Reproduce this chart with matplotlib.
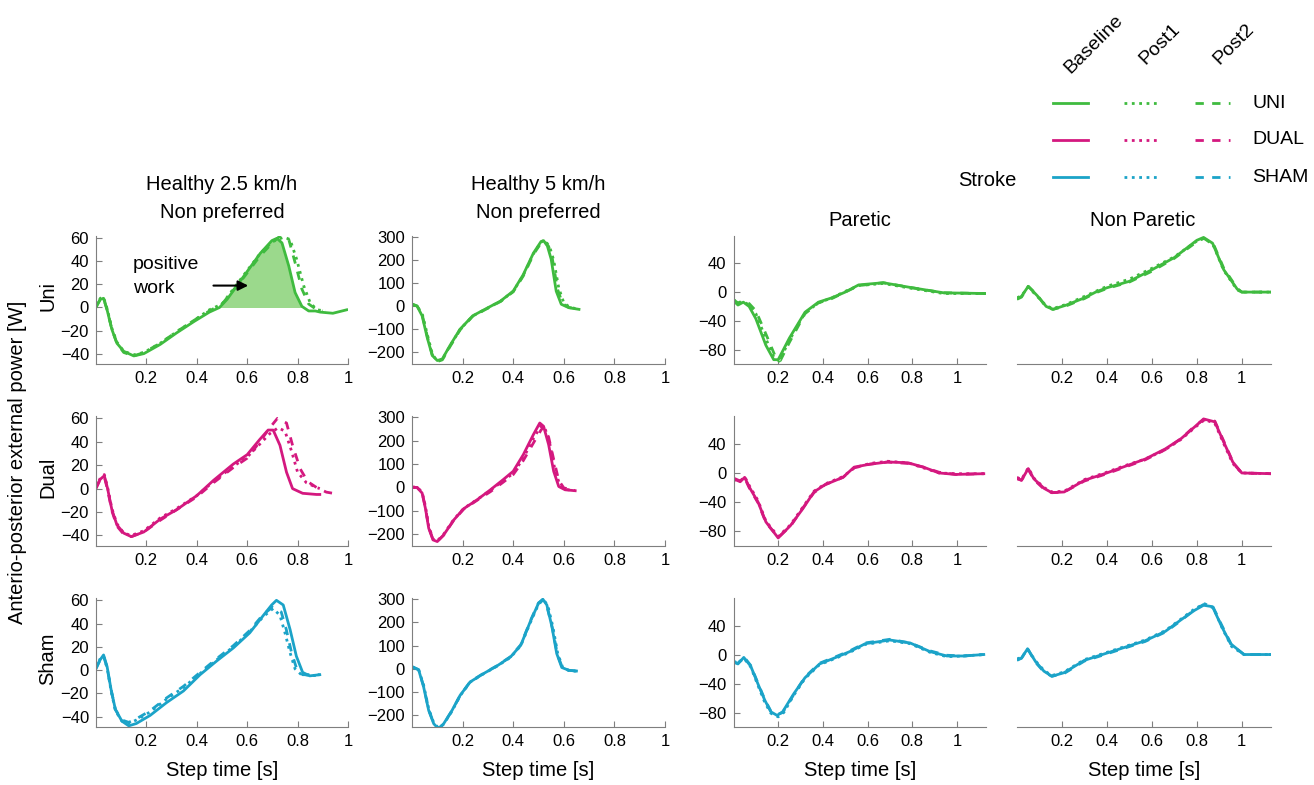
import numpy as np
import matplotlib
matplotlib.use("Agg")
import matplotlib.pyplot as plt
from matplotlib.lines import Line2D

plt.rcParams["font.family"] = ["Liberation Sans", "DejaVu Sans"]

GREEN = "#3fbb3f"
MAGENTA = "#d4187f"
CYAN = "#1ba3c8"
FILL_GREEN = "#9bd98c"

GROUPS = ["UNI", "DUAL", "SHAM"]
ROW_LABELS = ["Uni", "Dual", "Sham"]
SESSIONS = ["Baseline", "Post1", "Post2"]

# (step time [s], power [W])
# --- UNI ---
UNI_H25_BASE = [(0, 1), (0.017, 7), (0.03, 8), (0.044, -2), (0.063, -19), (0.083, -31), (0.11, -38), (0.15, -42),
                (0.19, -40), (0.255, -32), (0.32, -22), (0.39, -12), (0.45, -4), (0.49, 0), (0.52, 7), (0.586, 27),
                (0.652, 47), (0.698, 58), (0.718, 60), (0.738, 56), (0.765, 36), (0.79, 13), (0.817, 1),
                (0.844, -3), (0.87, -3), (0.89, -4), (0.94, -5), (0.995, -2)]
UNI_H25_POST1 = [(0, 1), (0.017, 8), (0.03, 9), (0.044, -1), (0.063, -18), (0.083, -30), (0.11, -38), (0.15, -41),
                 (0.19, -39), (0.255, -31), (0.32, -21), (0.39, -11), (0.45, -2), (0.5, 3), (0.586, 28),
                 (0.652, 47), (0.7, 57), (0.745, 61), (0.77, 59), (0.796, 42), (0.824, 19), (0.85, 4),
                 (0.877, -2), (0.91, -3)]
UNI_H25_POST2 = [(0, 0), (0.017, 7), (0.03, 8), (0.044, -2), (0.063, -19), (0.083, -31), (0.11, -39), (0.15, -42),
                 (0.19, -39), (0.255, -31), (0.32, -21), (0.39, -11), (0.45, -3), (0.5, 3), (0.586, 26),
                 (0.652, 45), (0.7, 56), (0.73, 62), (0.765, 59), (0.79, 39), (0.817, 16), (0.844, 3),
                 (0.877, -2), (0.9, -3)]
UNI_H5_BASE = [(0, 9), (0.02, 1), (0.04, -41), (0.06, -135), (0.08, -213), (0.1, -235), (0.12, -228), (0.15, -170),
               (0.19, -99), (0.24, -41), (0.3, -6), (0.35, 23), (0.4, 66), (0.44, 138), (0.48, 231), (0.51, 281),
               (0.52, 285), (0.535, 262), (0.55, 205), (0.57, 66), (0.59, 9), (0.62, -6), (0.66, -13)]
UNI_H5_POST1 = [(0, 8), (0.02, 0), (0.04, -30), (0.06, -120), (0.08, -205), (0.1, -240), (0.12, -230),
                (0.15, -172), (0.19, -100), (0.24, -42), (0.3, -7), (0.35, 22), (0.4, 65), (0.44, 135), (0.48, 228),
                (0.51, 278), (0.525, 288), (0.545, 255), (0.56, 200), (0.58, 80), (0.6, 15), (0.625, -5),
                (0.65, -10)]
UNI_H5_POST2 = [(0, 10), (0.02, 2), (0.04, -35), (0.06, -128), (0.08, -210), (0.1, -238), (0.12, -232),
                (0.15, -175), (0.19, -102), (0.24, -43), (0.3, -8), (0.35, 21), (0.4, 63), (0.44, 132),
                (0.48, 225), (0.51, 275), (0.52, 286), (0.54, 260), (0.555, 205), (0.575, 75), (0.595, 12),
                (0.62, -5), (0.645, -9)]
UNI_PAR_BASE = [(0, -12), (0.02, -18), (0.044, -14), (0.07, -20), (0.1, -37), (0.145, -74), (0.18, -94),
                (0.2, -94), (0.25, -64), (0.32, -28), (0.38, -14), (0.44, -8), (0.5, 0), (0.56, 10), (0.67, 13),
                (0.8, 6), (0.94, -1), (1.13, -2)]
UNI_PAR_POST1 = [(0, -10), (0.02, -16), (0.044, -13), (0.07, -18), (0.1, -30), (0.145, -65), (0.18, -90),
                 (0.205, -96), (0.25, -67), (0.32, -29), (0.38, -15), (0.44, -8), (0.5, 1), (0.56, 9), (0.67, 12),
                 (0.8, 5), (0.94, -2), (1.13, -2)]
UNI_PAR_POST2 = [(0, -11), (0.02, -15), (0.044, -12), (0.07, -16), (0.1, -26), (0.15, -62), (0.185, -88),
                 (0.21, -95), (0.25, -70), (0.32, -30), (0.38, -15), (0.44, -9), (0.5, 0), (0.56, 9), (0.67, 13),
                 (0.8, 6), (0.94, -1), (1.13, -2)]
UNI_NPAR_BASE = [(0, -9), (0.02, -6), (0.05, 8), (0.09, -5), (0.13, -20), (0.16, -24), (0.22, -18), (0.3, -8),
                 (0.35, 0), (0.4, 6), (0.5, 15), (0.6, 31), (0.7, 48), (0.8, 72), (0.83, 76), (0.87, 68),
                 (0.92, 31), (0.98, 4), (1.0, 0), (1.13, 0)]
UNI_NPAR_POST1 = [(0, -8), (0.02, -5), (0.05, 7), (0.09, -6), (0.13, -19), (0.16, -23), (0.22, -17), (0.3, -6),
                  (0.35, 1), (0.4, 8), (0.5, 18), (0.6, 33), (0.7, 49), (0.8, 71), (0.835, 75), (0.875, 64),
                  (0.92, 30), (0.98, 3), (1.0, 0), (1.13, 0)]
UNI_NPAR_POST2 = [(0, -10), (0.02, -7), (0.05, 8), (0.09, -4), (0.13, -21), (0.16, -24), (0.22, -19), (0.3, -9),
                  (0.35, -1), (0.4, 5), (0.5, 14), (0.6, 29), (0.7, 47), (0.8, 70), (0.83, 75), (0.875, 66),
                  (0.92, 33), (0.98, 5), (1.0, 0), (1.13, 0)]

# --- DUAL ---
DUAL_H25_BASE = [(0, 1), (0.017, 8), (0.033, 11), (0.046, 0), (0.063, -18), (0.083, -31), (0.11, -38),
                 (0.14, -41), (0.19, -37), (0.255, -26), (0.32, -18), (0.4, -6), (0.466, 7), (0.545, 21),
                 (0.6, 29), (0.65, 42), (0.683, 50), (0.703, 50), (0.73, 37), (0.756, 14), (0.78, 0),
                 (0.82, -4), (0.875, -5), (0.888, -5)]
DUAL_H25_POST1 = [(0, 1), (0.017, 9), (0.033, 12), (0.046, 1), (0.063, -17), (0.083, -30), (0.11, -38),
                  (0.14, -40), (0.19, -36), (0.255, -25), (0.32, -17), (0.4, -6), (0.466, 6), (0.545, 19),
                  (0.6, 27), (0.65, 38), (0.69, 47), (0.723, 52), (0.75, 49), (0.776, 32), (0.8, 14),
                  (0.835, 5), (0.875, 1), (0.888, 0)]
DUAL_H25_POST2 = [(0, 0), (0.017, 8), (0.033, 10), (0.046, -1), (0.063, -19), (0.083, -32), (0.11, -39),
                  (0.14, -41), (0.19, -37), (0.255, -27), (0.32, -18), (0.4, -7), (0.466, 5), (0.545, 18),
                  (0.6, 26), (0.65, 40), (0.69, 52), (0.72, 60), (0.756, 56), (0.78, 37), (0.81, 17),
                  (0.84, 6), (0.875, 1), (0.914, -3), (0.967, -5)]
DUAL_H5_BASE = [(0, 0), (0.02, 0), (0.04, -24), (0.053, -89), (0.066, -174), (0.083, -224), (0.1, -231),
                (0.125, -203), (0.165, -139), (0.204, -91), (0.257, -53), (0.31, -10), (0.36, 33), (0.4, 69),
                (0.44, 140), (0.48, 226), (0.505, 275), (0.52, 261), (0.54, 183), (0.56, 69), (0.58, 4),
                (0.605, -10), (0.645, -14)]
DUAL_H5_POST1 = [(0, 2), (0.02, 1), (0.04, -20), (0.053, -80), (0.066, -165), (0.083, -220), (0.1, -228),
                 (0.125, -200), (0.165, -137), (0.204, -90), (0.257, -52), (0.31, -12), (0.36, 28), (0.4, 60),
                 (0.44, 125), (0.48, 210), (0.51, 262), (0.525, 255), (0.545, 185), (0.565, 75), (0.585, 8),
                 (0.61, -9), (0.645, -13)]
DUAL_H5_POST2 = [(0, 1), (0.02, 0), (0.04, -22), (0.053, -85), (0.066, -170), (0.083, -222), (0.1, -230),
                 (0.125, -204), (0.165, -140), (0.204, -93), (0.257, -55), (0.31, -18), (0.36, 22), (0.4, 55),
                 (0.44, 115), (0.48, 190), (0.51, 245), (0.52, 258), (0.54, 215), (0.56, 120), (0.58, 30),
                 (0.6, -2), (0.64, -12)]
DUAL_PAR_BASE = [(0, -8), (0.03, -12), (0.05, -6), (0.07, -19), (0.11, -40), (0.145, -67), (0.2, -89),
                 (0.255, -72), (0.31, -49), (0.36, -26), (0.41, -16), (0.49, -6), (0.54, 8), (0.61, 12),
                 (0.69, 15), (0.78, 14), (0.85, 8), (0.92, 0), (0.995, -2), (1.12, -1)]
DUAL_PAR_POST1 = [(0, -9), (0.03, -11), (0.05, -5), (0.07, -17), (0.11, -38), (0.145, -66), (0.2, -87),
                  (0.255, -71), (0.31, -47), (0.36, -25), (0.41, -15), (0.49, -5), (0.54, 7), (0.61, 13),
                  (0.69, 16), (0.78, 14), (0.85, 7), (0.92, 0), (0.995, -1), (1.12, -1)]
DUAL_PAR_POST2 = [(0, -7), (0.03, -11), (0.05, -7), (0.07, -20), (0.11, -41), (0.145, -68), (0.2, -88),
                  (0.255, -73), (0.31, -48), (0.36, -27), (0.41, -16), (0.49, -6), (0.54, 7), (0.61, 12),
                  (0.69, 15), (0.78, 13), (0.85, 8), (0.92, 1), (0.995, -2), (1.12, -1)]
DUAL_NPAR_BASE = [(0, -7), (0.02, -10), (0.05, 6), (0.075, -8), (0.12, -21), (0.155, -27), (0.21, -26),
                  (0.3, -10), (0.39, -1), (0.48, 9), (0.57, 19), (0.66, 33), (0.73, 47), (0.79, 63),
                  (0.83, 74), (0.88, 70), (0.92, 42), (0.96, 15), (1.0, 0), (1.13, -1)]
DUAL_NPAR_POST1 = [(0, -6), (0.02, -9), (0.05, 7), (0.075, -7), (0.12, -20), (0.155, -26), (0.21, -25),
                   (0.3, -9), (0.39, 0), (0.48, 10), (0.57, 19), (0.66, 32), (0.73, 46), (0.79, 62),
                   (0.835, 73), (0.88, 68), (0.92, 40), (0.96, 13), (1.0, 0), (1.13, -1)]
DUAL_NPAR_POST2 = [(0, -8), (0.02, -10), (0.05, 5), (0.075, -9), (0.12, -22), (0.155, -27), (0.21, -26),
                   (0.3, -11), (0.39, -2), (0.48, 8), (0.57, 18), (0.66, 32), (0.73, 47), (0.79, 64),
                   (0.83, 73), (0.88, 71), (0.925, 40), (0.965, 12), (1.0, 0), (1.13, -1)]

# --- SHAM ---
SHAM_H25_BASE = [(0, 2), (0.017, 9), (0.03, 13), (0.044, 3), (0.06, -17), (0.077, -34), (0.103, -44),
                 (0.13, -48), (0.16, -46), (0.215, -39), (0.28, -28), (0.347, -18), (0.413, -4), (0.48, 8),
                 (0.545, 19), (0.61, 32), (0.664, 47), (0.697, 56), (0.716, 60), (0.743, 56), (0.77, 35),
                 (0.795, 12), (0.82, -2), (0.848, -5), (0.888, -4)]
SHAM_H25_POST1 = [(0, 2), (0.017, 10), (0.03, 12), (0.044, 2), (0.06, -18), (0.077, -35), (0.103, -44),
                  (0.13, -46), (0.16, -43), (0.215, -36), (0.28, -25), (0.347, -15), (0.413, -3), (0.48, 9),
                  (0.545, 20), (0.61, 33), (0.664, 46), (0.703, 53), (0.73, 47), (0.75, 32), (0.77, 15),
                  (0.79, 1), (0.815, -4), (0.888, -5)]
SHAM_H25_POST2 = [(0, 1), (0.017, 9), (0.03, 12), (0.044, 2), (0.06, -17), (0.077, -34), (0.103, -43),
                  (0.13, -45), (0.16, -42), (0.215, -35), (0.28, -24), (0.347, -14), (0.413, -2), (0.48, 10),
                  (0.545, 21), (0.61, 34), (0.664, 48), (0.7, 54), (0.735, 50), (0.755, 35), (0.775, 16),
                  (0.795, 2), (0.82, -4), (0.888, -4)]
SHAM_H5_BASE = [(0, 9), (0.026, -3), (0.046, -78), (0.066, -179), (0.086, -236), (0.105, -258), (0.125, -236),
                (0.158, -179), (0.19, -114), (0.23, -56), (0.283, -20), (0.335, 12), (0.39, 52), (0.43, 102),
                (0.47, 210), (0.5, 282), (0.517, 300), (0.533, 275), (0.553, 182), (0.572, 66), (0.592, 6),
                (0.62, -6), (0.65, -9)]
SHAM_H5_POST1 = [(0, 8), (0.026, -2), (0.046, -70), (0.066, -172), (0.086, -232), (0.105, -255), (0.125, -238),
                 (0.158, -182), (0.19, -116), (0.23, -57), (0.283, -21), (0.335, 11), (0.39, 50), (0.43, 100),
                 (0.47, 205), (0.5, 278), (0.52, 298), (0.537, 272), (0.557, 180), (0.576, 66), (0.596, 5),
                 (0.62, -7), (0.65, -10)]
SHAM_H5_POST2 = [(0, 10), (0.026, -4), (0.046, -74), (0.066, -176), (0.086, -234), (0.105, -256),
                 (0.125, -237), (0.158, -180), (0.19, -115), (0.23, -55), (0.283, -19), (0.335, 13), (0.39, 53),
                 (0.43, 104), (0.47, 212), (0.5, 284), (0.515, 296), (0.533, 270), (0.555, 175), (0.575, 60),
                 (0.595, 4), (0.62, -6), (0.645, -9)]
SHAM_PAR_BASE = [(0, -10), (0.02, -13), (0.046, -4), (0.077, -16), (0.11, -41), (0.14, -63), (0.167, -79),
                 (0.195, -84), (0.22, -79), (0.27, -54), (0.32, -32), (0.385, -13), (0.45, -5), (0.52, 4),
                 (0.59, 15), (0.7, 20), (0.79, 16), (0.88, 4), (0.955, -2), (1.03, -2), (1.12, 0)]
SHAM_PAR_POST1 = [(0, -9), (0.02, -12), (0.046, -5), (0.077, -17), (0.11, -43), (0.14, -66), (0.167, -81),
                  (0.2, -86), (0.225, -80), (0.27, -56), (0.32, -33), (0.385, -14), (0.45, -6), (0.52, 3),
                  (0.59, 14), (0.7, 19), (0.79, 15), (0.88, 3), (0.955, -3), (1.03, -2), (1.12, 0)]
SHAM_PAR_POST2 = [(0, -11), (0.02, -12), (0.046, -3), (0.077, -15), (0.11, -40), (0.14, -62), (0.167, -78),
                  (0.195, -83), (0.22, -80), (0.27, -55), (0.32, -31), (0.385, -12), (0.45, -4), (0.52, 5),
                  (0.59, 16), (0.7, 21), (0.79, 16), (0.88, 5), (0.955, -1), (1.03, -2), (1.12, 0)]
SHAM_NPAR_BASE = [(0, -7), (0.02, -5), (0.047, 8), (0.083, -10), (0.12, -23), (0.155, -30), (0.21, -25),
                  (0.3, -8), (0.39, 1), (0.48, 10), (0.57, 19), (0.66, 32), (0.73, 48), (0.79, 61),
                  (0.83, 68), (0.87, 66), (0.91, 39), (0.95, 15), (1.01, 0), (1.13, 0)]
SHAM_NPAR_POST1 = [(0, -6), (0.02, -4), (0.047, 7), (0.083, -9), (0.12, -22), (0.155, -29), (0.21, -24),
                   (0.3, -7), (0.39, 2), (0.48, 11), (0.57, 20), (0.66, 33), (0.73, 49), (0.79, 63),
                   (0.835, 70), (0.875, 64), (0.915, 35), (0.955, 11), (1.01, 0), (1.13, 0)]
SHAM_NPAR_POST2 = [(0, -8), (0.02, -5), (0.047, 8), (0.083, -11), (0.12, -24), (0.155, -30), (0.21, -26),
                   (0.3, -9), (0.39, 0), (0.48, 9), (0.57, 18), (0.66, 31), (0.73, 47), (0.79, 62),
                   (0.83, 69), (0.87, 67), (0.91, 41), (0.955, 13), (1.01, 0), (1.13, 0)]

PANELS = [
    [(UNI_H25_BASE, UNI_H25_POST1, UNI_H25_POST2), (UNI_H5_BASE, UNI_H5_POST1, UNI_H5_POST2),
     (UNI_PAR_BASE, UNI_PAR_POST1, UNI_PAR_POST2), (UNI_NPAR_BASE, UNI_NPAR_POST1, UNI_NPAR_POST2)],
    [(DUAL_H25_BASE, DUAL_H25_POST1, DUAL_H25_POST2), (DUAL_H5_BASE, DUAL_H5_POST1, DUAL_H5_POST2),
     (DUAL_PAR_BASE, DUAL_PAR_POST1, DUAL_PAR_POST2), (DUAL_NPAR_BASE, DUAL_NPAR_POST1, DUAL_NPAR_POST2)],
    [(SHAM_H25_BASE, SHAM_H25_POST1, SHAM_H25_POST2), (SHAM_H5_BASE, SHAM_H5_POST1, SHAM_H5_POST2),
     (SHAM_PAR_BASE, SHAM_PAR_POST1, SHAM_PAR_POST2), (SHAM_NPAR_BASE, SHAM_NPAR_POST1, SHAM_NPAR_POST2)],
]
ROW_COLORS = [GREEN, MAGENTA, CYAN]
STYLES = ["-", ":", (0, (3, 3))]

COL_XLIM = [(0, 1), (0, 1), (0, 1.13), (0, 1.13)]
COL_YLIM = [(-49, 62), (-250, 305), (-100, 78), (-100, 78)]
COL_YTICKS = [[-40, -20, 0, 20, 40, 60], [-200, -100, 0, 100, 200, 300], [-80, -40, 0, 40], None]
XTICKS = [0.2, 0.4, 0.6, 0.8, 1]
XTICKLABELS = ["0.2", "0.4", "0.6", "0.8", "1"]

W, H = 1314, 785
COL_PX = [(96, 348), (412, 665), (733.5, 986), (1017, 1271)]
ROW_PX = [(236, 364), (416, 546), (598, 727)]

fig = plt.figure(figsize=(13.14, 7.85), dpi=100)

axes = []
for r in range(3):
    row_axes = []
    for c in range(4):
        x0, x1 = COL_PX[c]
        y0, y1 = ROW_PX[r]
        ax = fig.add_axes([x0 / W, 1 - y1 / H, (x1 - x0) / W, (y1 - y0) / H])
        for s_idx, curve in enumerate(PANELS[r][c]):
            t = np.array([p[0] for p in curve])
            v = np.array([p[1] for p in curve])
            ax.plot(t, v, color=ROW_COLORS[r], ls=STYLES[s_idx], lw=2.0)
        ax.set_xlim(*COL_XLIM[c])
        ax.set_ylim(*COL_YLIM[c])
        ax.set_xticks(XTICKS)
        ax.set_xticklabels(XTICKLABELS)
        for side in ["top", "right"]:
            ax.spines[side].set_visible(False)
        for side in ["left", "bottom"]:
            ax.spines[side].set_color("#7f7f7f")
        ax.tick_params(direction="in", length=4, color="#7f7f7f", labelsize=12, pad=5)
        if COL_YTICKS[c] is None:
            ax.spines["left"].set_visible(False)
            ax.set_yticks([])
        else:
            ax.set_yticks(COL_YTICKS[c])
        if r == 2:
            ax.set_xlabel("Step time [s]", fontsize=14.5, labelpad=9)
        row_axes.append(ax)
    axes.append(row_axes)

# positive work shading on Uni / healthy 2.5 km/h
ax = axes[0][0]
t = np.array([p[0] for p in UNI_H25_BASE])
v = np.array([p[1] for p in UNI_H25_BASE])
ax.fill_between(t, v, 0, where=(v >= 0) & (t > 0.3), interpolate=True, color=FILL_GREEN, lw=0, zorder=0)
ax.text(0.147, 27, "positive\nwork", fontsize=14, ha="left", va="center", linespacing=1.5)
ax.annotate("", xy=(0.615, 19), xytext=(0.455, 19),
            arrowprops=dict(arrowstyle="-|>", color="black", lw=1.5, mutation_scale=15))

# column titles
fig.text(222 / W, 1 - 185 / H, "Healthy 2.5 km/h", ha="center", va="center", fontsize=14.5)
fig.text(222 / W, 1 - 212 / H, "Non preferred", ha="center", va="center", fontsize=14.5)
fig.text(538 / W, 1 - 185 / H, "Healthy 5 km/h", ha="center", va="center", fontsize=14.5)
fig.text(538 / W, 1 - 212 / H, "Non preferred", ha="center", va="center", fontsize=14.5)
fig.text(987 / W, 1 - 180 / H, "Stroke", ha="center", va="center", fontsize=14.5)
fig.text(860 / W, 1 - 220 / H, "Paretic", ha="center", va="center", fontsize=14.5)
fig.text(1143 / W, 1 - 220 / H, "Non Paretic", ha="center", va="center", fontsize=14.5)

# row labels and shared y label
for r, lab in enumerate(ROW_LABELS):
    y0, y1 = ROW_PX[r]
    fig.text(48 / W, 1 - (y0 + y1 - 8) / 2 / H, lab, rotation=90, ha="center", va="center", fontsize=14.5)
fig.text(18 / W, 1 - 462 / H, "Anterio-posterior external power [W]", rotation=90,
         ha="center", va="center", fontsize=14.5)

# legend grid
head_x = [1094, 1160, 1234]
for lab, hx in zip(SESSIONS, head_x):
    fig.text(hx / W, 1 - 44 / H, lab, rotation=45, ha="center", va="center", fontsize=14,
             rotation_mode="anchor")
line_x = [(1053, 1088), (1124, 1158), (1195, 1230)]
row_y = [103, 140, 177]
for g, (grp, col) in enumerate(zip(GROUPS, ROW_COLORS)):
    yy = 1 - row_y[g] / H
    for s_idx, (lx0, lx1) in enumerate(line_x):
        fig.add_artist(Line2D([lx0 / W, lx1 / W], [yy, yy], transform=fig.transFigure,
                              color=col, ls=STYLES[s_idx], lw=2.0))
    fig.text(1252 / W, yy, grp, ha="left", va="center", fontsize=14)

fig.savefig("out.png", dpi=100)
